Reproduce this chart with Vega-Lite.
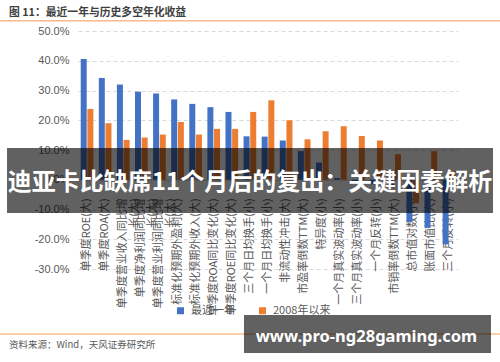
{
  "$schema": "https://vega.github.io/schema/vega-lite/v6.json",
  "width": 380,
  "height": 238,
  "autosize": {"type": "none"},
  "padding": {"left": 78, "top": 31, "right": 42, "bottom": 93},
  "background": "white",
  "config": {"view": {"stroke": null}, "font": "Noto Sans CJK SC"},
  "datasets": {
    "bars": [
      {"factor": "单季度ROE(大)", "series": "最近一年", "value": 0.406},
      {"factor": "单季度ROE(大)", "series": "2008年以来", "value": 0.238},
      {"factor": "单季度ROA(大)", "series": "最近一年", "value": 0.342},
      {"factor": "单季度ROA(大)", "series": "2008年以来", "value": 0.190},
      {"factor": "单季度营业收入同比增|长(大)", "series": "最近一年", "value": 0.320},
      {"factor": "单季度营业收入同比增|长(大)", "series": "2008年以来", "value": 0.134},
      {"factor": "单季度净利润同比增|长(大)", "series": "最近一年", "value": 0.296},
      {"factor": "单季度净利润同比增|长(大)", "series": "2008年以来", "value": 0.142},
      {"factor": "单季度营业利润同比增|长(大)", "series": "最近一年", "value": 0.290},
      {"factor": "单季度营业利润同比增|长(大)", "series": "2008年以来", "value": 0.152},
      {"factor": "标准化预期外盈利(大)", "series": "最近一年", "value": 0.270},
      {"factor": "标准化预期外盈利(大)", "series": "2008年以来", "value": 0.194},
      {"factor": "标准化预期外收入(大)", "series": "最近一年", "value": 0.255},
      {"factor": "标准化预期外收入(大)", "series": "2008年以来", "value": 0.152},
      {"factor": "单季度ROA同比变化(大)", "series": "最近一年", "value": 0.244},
      {"factor": "单季度ROA同比变化(大)", "series": "2008年以来", "value": 0.171},
      {"factor": "单季度ROE同比变化(大)", "series": "最近一年", "value": 0.228},
      {"factor": "单季度ROE同比变化(大)", "series": "2008年以来", "value": 0.171},
      {"factor": "三个月日均换手(小)", "series": "最近一年", "value": 0.146},
      {"factor": "三个月日均换手(小)", "series": "2008年以来", "value": 0.228},
      {"factor": "一个月日均换手(小)", "series": "最近一年", "value": 0.145},
      {"factor": "一个月日均换手(小)", "series": "2008年以来", "value": 0.267},
      {"factor": "非流动性冲击(大)", "series": "最近一年", "value": 0.132},
      {"factor": "非流动性冲击(大)", "series": "2008年以来", "value": 0.200},
      {"factor": "市盈率倒数TTM(大)", "series": "最近一年", "value": 0.096},
      {"factor": "市盈率倒数TTM(大)", "series": "2008年以来", "value": 0.136},
      {"factor": "特异度(小)", "series": "最近一年", "value": 0.058},
      {"factor": "特异度(小)", "series": "2008年以来", "value": 0.163},
      {"factor": "一个月真实波动率(小)", "series": "最近一年", "value": 0.006},
      {"factor": "一个月真实波动率(小)", "series": "2008年以来", "value": 0.180},
      {"factor": "三个月真实波动率(小)", "series": "最近一年", "value": -0.010},
      {"factor": "三个月真实波动率(小)", "series": "2008年以来", "value": 0.147},
      {"factor": "一个月反转(小)", "series": "最近一年", "value": -0.015},
      {"factor": "一个月反转(小)", "series": "2008年以来", "value": 0.132},
      {"factor": "市销率倒数TTM(大)", "series": "最近一年", "value": -0.025},
      {"factor": "市销率倒数TTM(大)", "series": "2008年以来", "value": 0.086},
      {"factor": "总市值对数(小)", "series": "最近一年", "value": -0.142},
      {"factor": "总市值对数(小)", "series": "2008年以来", "value": -0.079},
      {"factor": "账面市值比(大)", "series": "最近一年", "value": -0.162},
      {"factor": "账面市值比(大)", "series": "2008年以来", "value": 0.096},
      {"factor": "三个月反转(小)", "series": "最近一年", "value": -0.217},
      {"factor": "三个月反转(小)", "series": "2008年以来", "value": 0.030}
    ],
    "banner": [{"x0": -0.1868, "x1": 1.0921, "y0": 0.1067, "y1": -0.1118}],
    "urlBox": [{"x0": 0.4368, "x1": 1.0868, "y0": -0.4546, "y1": -0.5824}],
    "titleLine": [{"x0": -0.2053, "x1": 1.1105, "y": 0.5346}],
    "sourceLine": [{"x0": -0.2053, "x1": 1.1105, "y": -0.5185}],
    "bannerText": [{"x": 0.4526, "y": -0.0126, "text": "迪亚卡比缺席11个月后的复出：关键因素解析"}],
    "urlText": [{"x": 0.759, "y": -0.5454, "text": "www.pro-ng28gaming.com"}],
    "titleText": [{"x": -0.1816, "y": 0.5496, "text": "图 11：最近一年与历史多空年化收益"}],
    "sourceText": [{"x": -0.1816, "y": -0.5655, "text": "资料来源：Wind，天风证券研究所"}]
  },
  "layer": [
    {
      "data": {"name": "bars"},
      "mark": {"type": "bar"},
      "encoding": {
        "x": {
          "field": "factor", "type": "nominal", "sort": null,
          "scale": {"paddingInner": 0.3, "paddingOuter": 0.15},
          "axis": {
            "title": null, "orient": "bottom", "offset": -89.25,
            "labelAngle": 270, "labelAlign": "right", "labelBaseline": "middle",
            "labelPadding": 18, "ticks": false, "domain": true, "domainColor": "#d9d9d9",
            "labelFontSize": 11, "labelColor": "#595959", "labelLimit": 300,
            "labelFont": "Noto Sans CJK SC", "labelOverlap": false, "labelLineHeight": 12,
            "labelExpr": "split(datum.label, '|')"
          }
        },
        "xOffset": {"field": "series", "type": "nominal", "sort": ["最近一年", "2008年以来"], "scale": {"paddingInner": 0.1}},
        "y": {
          "field": "value", "type": "quantitative",
          "scale": {"domain": [-0.3, 0.5], "nice": false, "zero": false},
          "axis": {
            "title": null, "values": [-0.3, -0.2, -0.1, 0, 0.1, 0.2, 0.3, 0.4, 0.5],
            "labelExpr": "replace(format(datum.value, '.1%'), '\u2212', '-')",
            "ticks": false, "domain": false, "gridDash": [4, 3], "gridColor": "#d9d9d9",
            "labelColor": "#595959", "labelFontSize": 11, "labelPadding": 9, "labelFont": "Liberation Sans"
          }
        },
        "color": {
          "field": "series", "type": "nominal", "sort": ["最近一年", "2008年以来"],
          "scale": {"range": ["#4472C4", "#ED7D31"]},
          "legend": {
            "title": null, "orient": "none", "legendX": 97, "legendY": 274, "direction": "horizontal",
            "symbolType": "square", "symbolSize": 49, "labelFontSize": 11, "labelColor": "#595959",
            "columnPadding": 22, "labelOffset": 5, "labelFont": "Noto Sans CJK SC"
          }
        }
      }
    },
    {
      "data": {"name": "titleLine"},
      "mark": {"type": "rule", "color": "#F9B98A", "strokeWidth": 1.5},
      "encoding": {
        "x": {"field": "x0", "type": "quantitative", "scale": {"domain": [0, 1], "nice": false, "zero": false}, "axis": null},
        "x2": {"field": "x1"},
        "y": {"field": "y", "type": "quantitative", "scale": {"domain": [-0.3, 0.5], "nice": false, "zero": false}, "axis": null}
      }
    },
    {
      "data": {"name": "sourceLine"},
      "mark": {"type": "rule", "color": "#F5A252", "strokeWidth": 1.2},
      "encoding": {
        "x": {"field": "x0", "type": "quantitative", "scale": {"domain": [0, 1], "nice": false, "zero": false}, "axis": null},
        "x2": {"field": "x1"},
        "y": {"field": "y", "type": "quantitative", "scale": {"domain": [-0.3, 0.5], "nice": false, "zero": false}, "axis": null}
      }
    },
    {
      "data": {"name": "titleText"},
      "mark": {"type": "text", "align": "left", "baseline": "alphabetic", "fontSize": 10.8, "fontWeight": "bold", "color": "#404040", "font": "Noto Sans CJK SC"},
      "encoding": {
        "x": {"field": "x", "type": "quantitative", "scale": {"domain": [0, 1], "nice": false, "zero": false}, "axis": null},
        "y": {"field": "y", "type": "quantitative", "scale": {"domain": [-0.3, 0.5], "nice": false, "zero": false}, "axis": null},
        "text": {"field": "text"}
      }
    },
    {
      "data": {"name": "sourceText"},
      "mark": {"type": "text", "align": "left", "baseline": "alphabetic", "fontSize": 9.5, "color": "#595959", "font": "Noto Sans CJK SC"},
      "encoding": {
        "x": {"field": "x", "type": "quantitative", "scale": {"domain": [0, 1], "nice": false, "zero": false}, "axis": null},
        "y": {"field": "y", "type": "quantitative", "scale": {"domain": [-0.3, 0.5], "nice": false, "zero": false}, "axis": null},
        "text": {"field": "text"}
      }
    },
    {
      "data": {"name": "banner"},
      "mark": {"type": "rect", "color": "#000000", "opacity": 0.62},
      "encoding": {
        "x": {"field": "x0", "type": "quantitative", "scale": {"domain": [0, 1], "nice": false, "zero": false}, "axis": null},
        "x2": {"field": "x1"},
        "y": {"field": "y0", "type": "quantitative", "scale": {"domain": [-0.3, 0.5], "nice": false, "zero": false}, "axis": null},
        "y2": {"field": "y1"}
      }
    },
    {
      "data": {"name": "urlBox"},
      "mark": {"type": "rect", "color": "#000000", "opacity": 0.62},
      "encoding": {
        "x": {"field": "x0", "type": "quantitative", "scale": {"domain": [0, 1], "nice": false, "zero": false}, "axis": null},
        "x2": {"field": "x1"},
        "y": {"field": "y0", "type": "quantitative", "scale": {"domain": [-0.3, 0.5], "nice": false, "zero": false}, "axis": null},
        "y2": {"field": "y1"}
      }
    },
    {
      "data": {"name": "bannerText"},
      "mark": {"type": "text", "align": "center", "baseline": "middle", "fontSize": 24, "fontWeight": "bold", "color": "#ffffff", "font": "Noto Sans CJK SC"},
      "encoding": {
        "x": {"field": "x", "type": "quantitative", "scale": {"domain": [0, 1], "nice": false, "zero": false}, "axis": null},
        "y": {"field": "y", "type": "quantitative", "scale": {"domain": [-0.3, 0.5], "nice": false, "zero": false}, "axis": null},
        "text": {"field": "text"}
      }
    },
    {
      "data": {"name": "urlText"},
      "mark": {"type": "text", "align": "center", "baseline": "alphabetic", "fontSize": 16.5, "fontWeight": "bold", "color": "#ffffff", "font": "Noto Sans"},
      "encoding": {
        "x": {"field": "x", "type": "quantitative", "scale": {"domain": [0, 1], "nice": false, "zero": false}, "axis": null},
        "y": {"field": "y", "type": "quantitative", "scale": {"domain": [-0.3, 0.5], "nice": false, "zero": false}, "axis": null},
        "text": {"field": "text"}
      }
    }
  ],
  "resolve": {"scale": {"x": "independent", "y": "independent"}, "axis": {"x": "independent", "y": "independent"}}
}
